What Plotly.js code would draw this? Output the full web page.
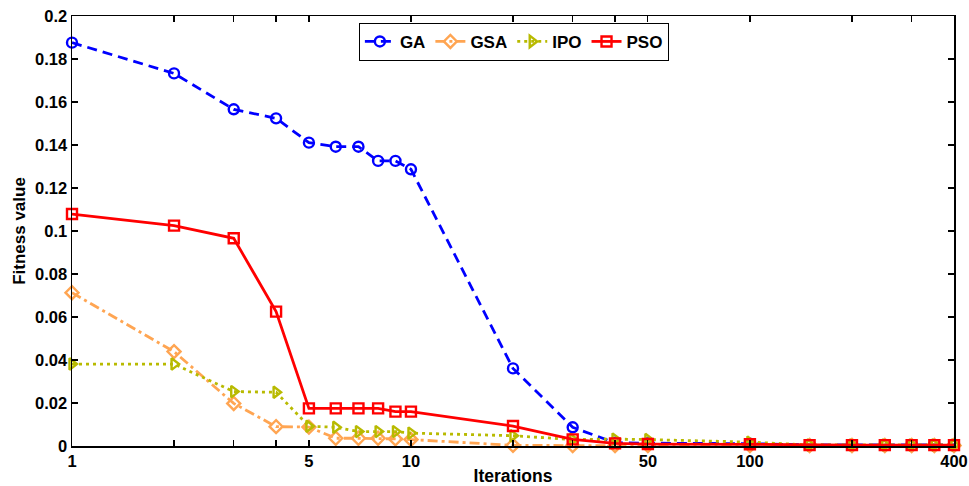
<!DOCTYPE html>
<html>
<head>
<meta charset="utf-8">
<script src="https://cdn.plot.ly/plotly-3.0.1.min.js"></script>
<style>html,body{margin:0;padding:0;background:#fff;}#chart{width:969px;height:486px;}</style>
</head>
<body>
<div id="chart"></div>
<script>
const iterations = [1,2,3,4,5,6,7,8,9,10,20,30,40,50,100,150,200,250,300,350,400];
const gaValues  = [0.1876,0.1733,0.1566,0.1524,0.1411,0.1392,0.1392,0.1326,0.1326,0.1287,0.0361,0.0087,0.0015,0.0013,0.0011,0.0005,0.0005,0.0005,0.0005,0.0005,0.0005];
const gsaValues = [0.0713,0.0439,0.0198,0.0090,0.0088,0.0036,0.0036,0.0036,0.0033,0.0030,0.0003,0.0002,0.0002,0.0002,0.0002,0.0002,0.0002,0.0002,0.0002,0.0002,0.0002];
const ipoValues = [0.0381,0.0381,0.0253,0.0250,0.0092,0.0087,0.0067,0.0067,0.0067,0.0060,0.0048,0.0030,0.0032,0.0030,0.0018,0.0005,0.0005,0.0005,0.0005,0.0005,0.0005];
const psoValues = [0.1079,0.1025,0.0966,0.0625,0.0175,0.0175,0.0175,0.0175,0.0160,0.0160,0.0093,0.0031,0.0012,0.0009,0.0008,0.0004,0.0004,0.0004,0.0004,0.0004,0.0004];
const seriesNames = ['GA','GSA','IPO','PSO'];
const xTickVals = [1,2,3,4,5,10,20,30,40,50,100,200,300,400];
const xTickText = ['1','','','','5','10','','','','50','100','','','400'];
const yTickVals = [0,0.02,0.04,0.06,0.08,0.1,0.12,0.14,0.16,0.18,0.2];
const yTickText = ['0','0.02','0.04','0.06','0.08','0.1','0.12','0.14','0.16','0.18','0.2'];

const FONT = 'Liberation Sans, Arial, sans-serif';
function mk(name, y, color, dash, symbol){
  return {
    x: iterations, y: y, name: name, type: 'scatter', mode: 'lines+markers',
    cliponaxis: false,
    line: {color: color, width: 2.8, dash: dash},
    marker: {symbol: symbol, size: 10, color: color, line: {color: color, width: 2.4}}
  };
}
const traces = [
  mk(seriesNames[0], gaValues, '#0000FF', '10px,6px', 'circle-open'),
  mk(seriesNames[1], gsaValues, '#FFA552', '10px,4px,3px,4px', 'diamond-open'),
  mk(seriesNames[2], ipoValues, '#B8BA00', '3px,4px', 'triangle-right-open'),
  mk(seriesNames[3], psoValues, '#FF0000', 'solid', 'square-open')
];
const layout = {
  width: 969, height: 486,
  margin: {l: 72, r: 15, t: 16, b: 40},
  paper_bgcolor: '#fff', plot_bgcolor: '#fff',
  font: {family: FONT, size: 16, color: '#000', weight: 'bold'},
  showlegend: true,
  legend: {orientation: 'h', x: 0.501, xanchor: 'center', y: 0.984, yanchor: 'top',
    bordercolor: '#000', borderwidth: 1, bgcolor: '#fff',
    font: {family: FONT, size: 17, color: '#000', weight: 'bold'}, itemwidth: 30, tracegroupgap: 0},
  xaxis: {
    type: 'log', range: [0, Math.log10(400)],
    tickmode: 'array', tickvals: xTickVals, ticktext: xTickText,
    ticks: 'inside', ticklen: 6, tickwidth: 1.2, tickcolor: '#000',
    showline: true, linecolor: '#000', linewidth: 1.5, mirror: 'ticks',
    showgrid: false, zeroline: false,
    tickfont: {family: FONT, size: 16.5, color: '#000', weight: 'bold'},
    title: {text: 'Iterations', font: {family: FONT, size: 17.5, color: '#000', weight: 'bold'}, standoff: 3}
  },
  yaxis: {
    range: [0, 0.2],
    tickmode: 'array', tickvals: yTickVals, ticktext: yTickText,
    ticks: 'inside', ticklen: 6, tickwidth: 1.2, tickcolor: '#000',
    showline: true, linecolor: '#000', linewidth: 1.5, mirror: 'ticks',
    showgrid: false, zeroline: false,
    tickfont: {family: FONT, size: 16.5, color: '#000', weight: 'bold'},
    title: {text: 'Fitness value', font: {family: FONT, size: 17, color: '#000', weight: 'bold'}, standoff: 5}
  }
};
Plotly.newPlot('chart', traces, layout, {displayModeBar: false, staticPlot: true});
</script>
</body>
</html>
